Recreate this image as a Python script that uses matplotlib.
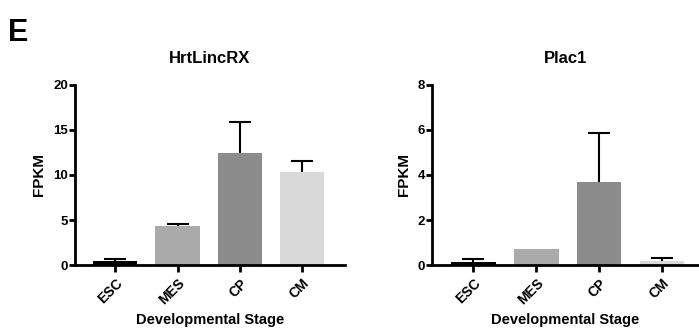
import numpy as np
import matplotlib
matplotlib.use('Agg')
import matplotlib.pyplot as plt

plt.rcParams['font.family'] = ['Liberation Sans', 'DejaVu Sans']
plt.rcParams['font.weight'] = 'bold'

stages = ['ESC', 'MES', 'CP', 'CM']
colors = ['#000000', '#aaaaaa', '#8c8c8c', '#d9d9d9']

hrt_mean = [0.45, 4.3, 12.4, 10.3]
hrt_err = [0.25, 0.3, 3.45, 1.3]

plac_mean = [0.13, 0.72, 3.68, 0.2]
plac_err = [0.12, 0.0, 2.17, 0.09]

fig = plt.figure(figsize=(6.99, 3.28), dpi=100)


def draw_panel(ax, means, errs, title, ymax, yticks, xlim):
    x = np.arange(len(stages))
    ax.bar(x, means, width=0.71, color=colors, linewidth=0, zorder=2)
    # upper error bars only, skip zero-length ones
    keep = [i for i in range(len(errs)) if errs[i] > 0]
    xs = x[keep]
    ms = np.array(means)[keep]
    es = np.array(errs)[keep]
    _, caps, _ = ax.errorbar(xs, ms, yerr=[np.zeros(len(es)), es], fmt='none',
                             ecolor='black', elinewidth=1.5, capsize=8,
                             capthick=1.5, zorder=3)
    caps[0].set_visible(False)
    ax.set_xlim(*xlim)
    ax.set_ylim(0, ymax)
    ax.set_yticks(yticks)
    ax.set_xticks(x)
    ax.set_xticklabels(stages, rotation=45, ha='right', rotation_mode='anchor',
                       fontsize=10, fontweight='bold')
    ax.tick_params(axis='y', labelsize=9.5, width=2, length=4, pad=1)
    ax.tick_params(axis='x', width=2, length=5, pad=3)
    for lab in ax.get_yticklabels():
        lab.set_fontweight('bold')
    for s in ['top', 'right']:
        ax.spines[s].set_visible(False)
    for s in ['left', 'bottom']:
        ax.spines[s].set_linewidth(2)
    ax.set_ylabel('FPKM', fontsize=11, fontweight='bold', labelpad=5)
    ax.set_xlabel('Developmental Stage', fontsize=10.5, fontweight='bold', labelpad=4)
    ax.set_title(title, fontsize=12, fontweight='bold', pad=16)


ax1 = fig.add_axes([0.107, 0.192, 0.386, 0.549])
draw_panel(ax1, hrt_mean, hrt_err, 'HrtLincRX', 20, [0, 5, 10, 15, 20], (-0.65, 3.68))

ax2 = fig.add_axes([0.618, 0.192, 0.382, 0.549])
draw_panel(ax2, plac_mean, plac_err, 'Plac1', 8, [0, 2, 4, 6, 8], (-0.66, 3.59))

fig.text(0.012, 0.875, 'E', fontsize=22, fontweight='bold')

fig.savefig('out.png', dpi=100)
